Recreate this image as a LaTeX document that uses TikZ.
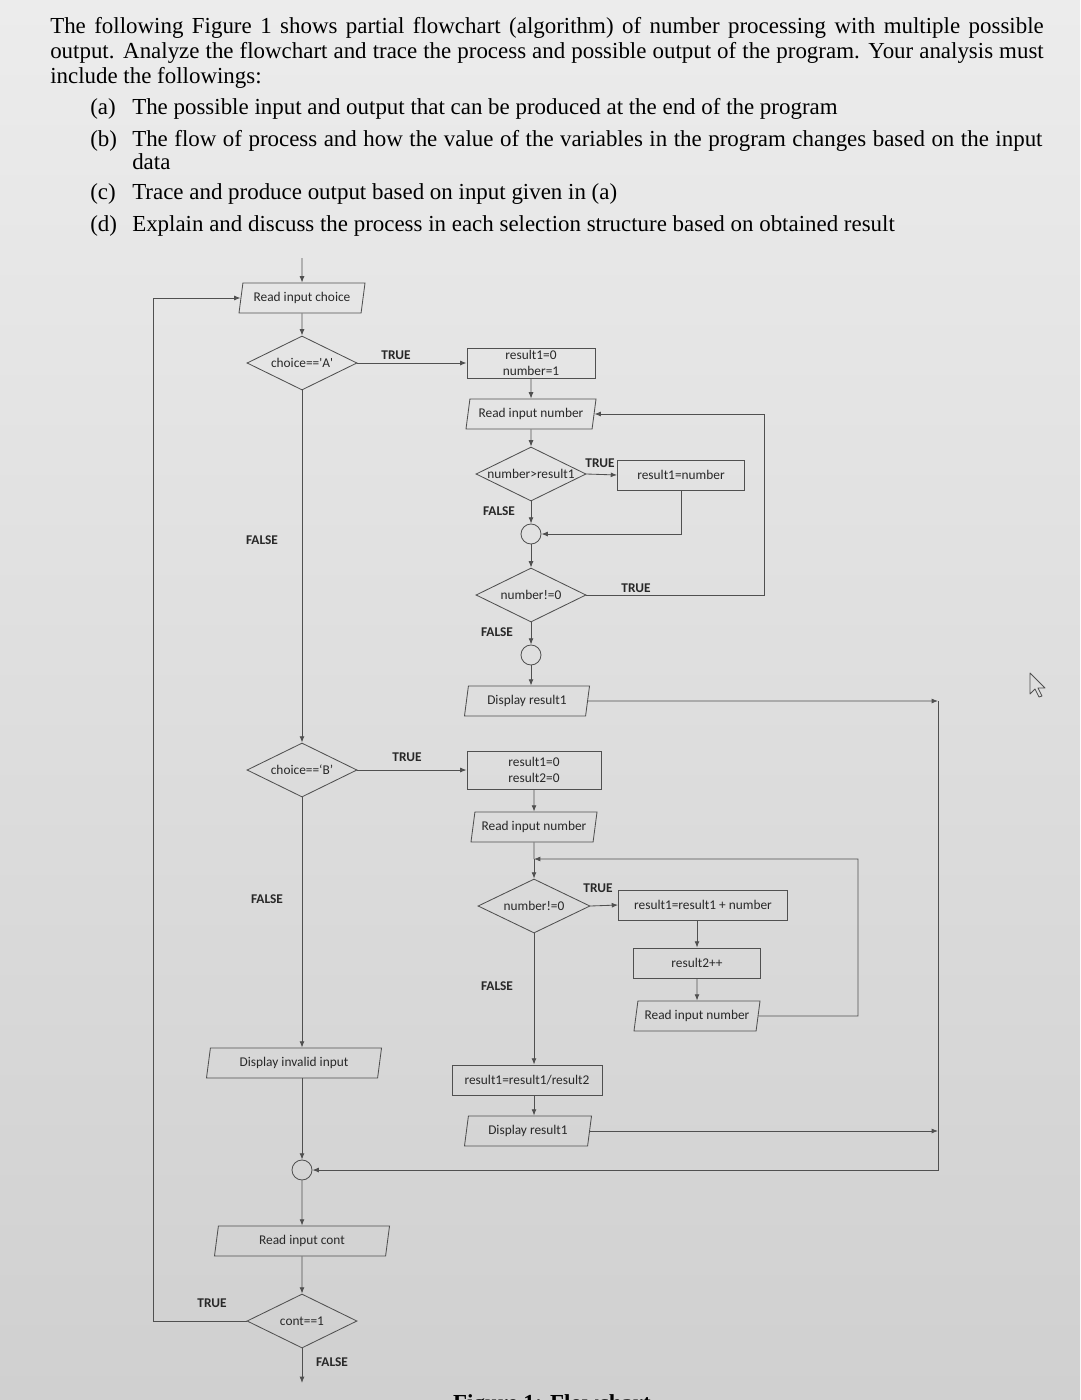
\documentclass[tikz,border=0pt]{standalone}
\usepackage{fontspec}
\setmainfont{Liberation Serif}
\newfontfamily\chartfont{Carlito}
\usetikzlibrary{shapes.geometric,arrows.meta}

\definecolor{papertop}{RGB}{236,236,236}
\definecolor{paperbot}{RGB}{208,208,208}
\definecolor{linegray}{RGB}{80,80,80}
\definecolor{textgray}{RGB}{40,40,40}

\begin{document}
\begin{tikzpicture}[x=0.025cm,y=-0.025cm,
  flow/.style={draw=linegray,line width=0.6pt},
  arr/.style={flow,-{Latex[length=4.5pt,width=3.5pt]}},
  proc/.style={flow,rectangle,inner sep=0pt,align=center,font=\chartfont\fontsize{9.5}{11}\selectfont,text=textgray,minimum height=0.75cm},
  inout/.style={flow,trapezium,trapezium left angle=71,trapezium right angle=109,trapezium stretches body,inner sep=0pt,font=\chartfont\fontsize{9.5}{11}\selectfont,text=textgray,minimum height=0.75cm},
  decide/.style={flow,diamond,aspect=2,inner sep=0pt,font=\chartfont\fontsize{9.5}{11}\selectfont,text=textgray,minimum width=2.75cm,minimum height=1.35cm},
  joint/.style={flow,circle,minimum size=0.5cm,inner sep=0pt},
  tag/.style={font=\chartfont\fontsize{9.5}{11}\selectfont\bfseries,text=textgray},
  para/.style={anchor=base west,inner sep=0pt,font=\fontsize{16.3}{19}\selectfont}]

\useasboundingbox (0,0) rectangle (1080,1400);
\shade[top color=papertop,bottom color=paperbot] (0,0) rectangle (1080,1400);

\node[para] (p1) at (50,34) {\makebox[24.83cm][s]{The following Figure 1 shows partial flowchart (algorithm) of number processing with multiple possible}};
\node[para] (p2) at (50,59) {\makebox[24.83cm][s]{output. Analyze the flowchart and trace the process and possible output of the program. Your analysis must}};
\node[para] (p3) at (50,83) {include the followings:};
\node[para] (qa) at (90,115) {\makebox[1.05cm][l]{(a)}The possible input and output that can be produced at the end of the program};
\node[para] (qb) at (90,146) {\makebox[1.05cm][l]{(b)}\makebox[22.75cm][s]{The flow of process and how the value of the variables in the program changes based on the input}};
\node[para] (qb2) at (132,169) {data};
\node[para] (qc) at (90,199) {\makebox[1.05cm][l]{(c)}Trace and produce output based on input given in (a)};
\node[para] (qd) at (90,231) {\makebox[1.05cm][l]{(d)}Explain and discuss the process in each selection structure based on obtained result};

\node[inout,minimum width=3.15cm] (rdch) at (302,298) {Read input choice};
\node[decide] (isA) at (302,363) {choice==\textquotesingle A\textquotesingle};
\node[proc,minimum width=3.2cm] (initA) at (531,363) {result1=0\\number=1};
\node[inout,minimum width=3.25cm] (rdA) at (531,414) {Read input number};
\node[decide] (isBig) at (531,474) {number>result1};
\node[proc,minimum width=3.175cm] (keep) at (681,475) {result1=number};
\node[joint] (jA1) at (531,534) {};
\node[decide] (nzA) at (531,595) {number!=0};
\node[joint] (jA2) at (531,655) {};
\node[inout,minimum width=3.125cm] (outA) at (527,701) {Display result1};

\node[decide] (isB) at (302,770) {choice==‘B’};
\node[proc,minimum width=3.35cm,minimum height=0.95cm] (initB) at (534,770) {result1=0\\result2=0};
\node[inout,minimum width=3.15cm] (rdB) at (534,827) {Read input number};
\node[decide,minimum width=2.8cm] (nzB) at (534,906) {number!=0};
\node[proc,minimum width=4.225cm] (sum) at (703,905) {result1=result1 + number};
\node[proc,minimum width=3.175cm] (count) at (697,963) {result2++};
\node[inout,minimum width=3.15cm] (rdB2) at (697,1016) {Read input number};
\node[proc,minimum width=3.75cm] (avg) at (527,1080) {result1=result1/result2};
\node[inout,minimum width=3.175cm] (outB) at (528,1131) {Display result1};

\node[inout,minimum width=4.375cm] (bad) at (294,1063) {Display invalid input};
\node[joint] (jEnd) at (302,1170) {};
\node[inout,minimum width=4.375cm] (rdcont) at (302,1241) {Read input cont};
\node[decide] (again) at (302,1321) {cont==1};

\node[tag] (tA) at (396,355) {TRUE};
\node[tag] (fA) at (262,540) {FALSE};
\node[tag] (tBig) at (600,463) {TRUE};
\node[tag] (fBig) at (499,511) {FALSE};
\node[tag] (tnzA) at (636,588) {TRUE};
\node[tag] (fnzA) at (497,632) {FALSE};
\node[tag] (tB) at (407,757) {TRUE};
\node[tag] (fB) at (267,899) {FALSE};
\node[tag] (tnzB) at (598,888) {TRUE};
\node[tag] (fnzB) at (497,986) {FALSE};
\node[tag] (tcont) at (212,1303) {TRUE};
\node[tag] (fcont) at (332,1362) {FALSE};

\coordinate (begin) at (302,258);
\coordinate (finish) at (302,1383);
\coordinate (back) at (153,1321);
\coordinate (loopA) at (764,595);
\coordinate (busT) at (938,701);
\coordinate (loopB) at (858,1016);
\coordinate (merge) at (534,859);

\draw[arr] (begin) -- (rdch.north);
\draw[arr] (rdch) -- (isA);
\draw[arr] (isA.east) -- (initA.west);
\draw[arr] (initA) -- (rdA);
\draw[arr] (rdA) -- (isBig);
\draw[arr] (isBig.east) -- (keep.west);
\draw[arr] (isBig) -- (jA1);
\draw[arr] (keep.south) |- (jA1.east);
\draw[arr] (jA1) -- (nzA);
\draw[arr] (nzA.east) -- (loopA) |- (rdA.east);
\draw[arr] (nzA) -- (jA2);
\draw[arr] (jA2.south) -- (jA2.south |- outA.north);
\draw[arr] (outA.east) -- (busT);

\draw[arr] (isA) -- (isB);
\draw[arr] (isB.east) -- (initB.west);
\draw[arr] (initB) -- (rdB);
\draw[flow] (rdB.south) -- (merge);
\draw[arr] (merge) -- (nzB.north);
\draw[arr] (nzB.east) -- (sum.west);
\draw[arr] (count.north |- sum.south) -- (count.north);
\draw[arr] (count) -- (rdB2);
\draw[arr] (rdB2.east) -- (loopB) |- (merge);
\draw[arr] (nzB.south) -- (nzB.south |- avg.north);
\draw[arr] (nzB |- avg.south) -- (nzB |- outB.north);
\draw[arr] (outB.east) -- (outB.east -| busT);

\draw[arr] (isB.south) -- (isB.south |- bad.north);
\draw[arr] (jEnd |- bad.south) -- (jEnd.north);
\draw[arr] (busT) |- (jEnd.east);
\draw[arr] (jEnd) -- (rdcont);
\draw[arr] (rdcont) -- (again);
\draw[arr] (again.south) -- (finish);
\draw[arr] (again.west) -- (back) |- (rdch.west);

\draw[linegray,line width=0.6pt,line join=round] (1030,673) -- (1030,694) -- (1035,689) -- (1039,697) -- (1042,696) -- (1038,688) -- (1045,688) -- cycle;
\node[anchor=base,inner sep=0pt,font=\fontsize{16.3}{19}\selectfont\bfseries] (caption) at (552,1410) {Figure 1: Flowchart};
\end{tikzpicture}
\end{document}
